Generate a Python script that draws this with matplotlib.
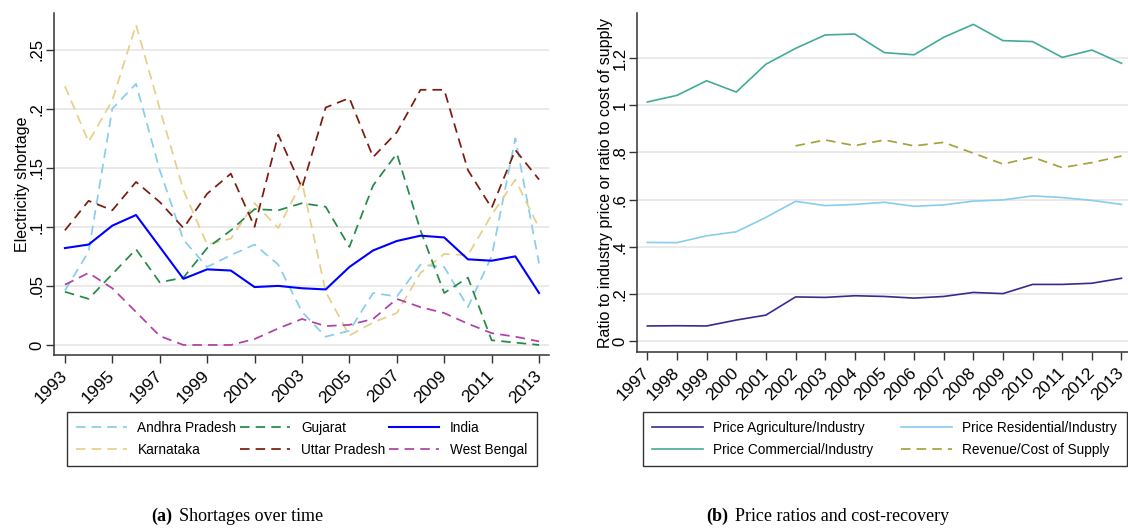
import matplotlib
matplotlib.use("Agg")
import matplotlib.pyplot as plt
from matplotlib.offsetbox import TextArea, HPacker, AnchoredOffsetbox

plt.rcParams['font.family'] = ['Liberation Sans', 'DejaVu Sans']

# ---------------- data: panel (a) ----------------
years_a = list(range(1993, 2014))
andhra = [0.046, 0.079, 0.200, 0.221, 0.148, 0.089, 0.066, 0.076, 0.085, 0.068,
          0.028, 0.007, 0.012, 0.044, 0.041, 0.068, 0.066, 0.032, 0.075, 0.175, 0.069]
gujarat = [0.045, 0.039, 0.060, 0.081, 0.053, 0.057, 0.082, 0.097, 0.115, 0.114,
           0.120, 0.117, 0.083, 0.135, 0.162, 0.097, 0.044, 0.057, 0.004, 0.002, 0.000]
india = [0.082, 0.085, 0.101, 0.110, 0.083, 0.056, 0.064, 0.063, 0.049, 0.050,
         0.048, 0.047, 0.066, 0.080, 0.088, 0.0925, 0.091, 0.0725, 0.0713, 0.075, 0.044]
karnataka = [0.219, 0.172, 0.207, 0.271, 0.200, 0.131, 0.085, 0.090, 0.120, 0.099,
             0.138, 0.045, 0.008, 0.019, 0.027, 0.061, 0.077, 0.076, 0.110, 0.140, 0.099]
uttar = [0.097, 0.122, 0.114, 0.138, 0.121, 0.099, 0.128, 0.145, 0.100, 0.178,
         0.133, 0.201, 0.209, 0.159, 0.180, 0.216, 0.216, 0.148, 0.116, 0.165, 0.140]
wbengal = [0.051, 0.061, 0.048, 0.028, 0.0076, 0.0, 0.0, 0.0, 0.005, 0.014,
           0.022, 0.016, 0.017, 0.022, 0.039, 0.032, 0.027, 0.018, 0.010, 0.007, 0.003]
xticks_a = list(range(1993, 2014, 2))
yticks_a = [0, 0.05, 0.1, 0.15, 0.2, 0.25]
yticklabels_a = ['0', '.05', '.1', '.15', '.2', '.25']

# ---------------- data: panel (b) ----------------
years_b = list(range(1997, 2014))
agri = [0.065, 0.066, 0.065, 0.090, 0.111, 0.188, 0.186, 0.193, 0.190, 0.183,
        0.190, 0.207, 0.202, 0.241, 0.241, 0.246, 0.267]
resid = [0.419, 0.418, 0.447, 0.464, 0.525, 0.593, 0.575, 0.580, 0.589, 0.572,
         0.578, 0.594, 0.599, 0.616, 0.609, 0.597, 0.580]
comm = [1.014, 1.042, 1.104, 1.056, 1.174, 1.241, 1.298, 1.302, 1.223, 1.214,
        1.288, 1.343, 1.274, 1.270, 1.203, 1.234, 1.178]
years_rev = list(range(2002, 2014))
revenue = [0.828, 0.853, 0.829, 0.853, 0.828, 0.843, 0.797, 0.751, 0.780, 0.736, 0.757, 0.785]
yticks_b = [0, 0.2, 0.4, 0.6, 0.8, 1.0, 1.2]
yticklabels_b = ['0', '.2', '.4', '.6', '.8', '1', '1.2']

W, H = 1128, 529
fig = plt.figure(figsize=(W / 100, H / 100), dpi=100)

def fx(px):
    return px / W

def fy(py):
    return 1 - py / H

axA = fig.add_axes([fx(54), fy(355), fx(549 - 54), (355 - 13) / H])
axB = fig.add_axes([fx(636.7), fy(352.3), fx(1128 - 636.7), (352.3 - 13) / H])

spine_col = '#333333'
grid_col = '#e6e6e6'

def style(ax, xt, xtl, yt, ytl, ylabel):
    for s in ['top', 'right']:
        ax.spines[s].set_visible(False)
    for s in ['left', 'bottom']:
        ax.spines[s].set_color(spine_col)
        ax.spines[s].set_linewidth(1.1)
    ax.yaxis.grid(True, color=grid_col, linewidth=1.2)
    ax.set_axisbelow(True)
    ax.tick_params(axis='both', length=6, width=1, color=spine_col, pad=2)
    ax.set_xticks(xt)
    ax.set_xticklabels(xtl, rotation=45, ha='right', va='center',
                       rotation_mode='anchor', fontsize=12.5)
    ax.tick_params(axis='x', pad=7)
    ax.set_yticks(yt)
    ax.set_yticklabels(ytl, rotation=90, va='center', ha='center', fontsize=12)
    ax.tick_params(axis='y', pad=6)
    ax.set_ylabel(ylabel, fontsize=11.5, labelpad=0)

dash = (0, (5.5, 3.5))
lw = 1.25
axA.plot(years_a, andhra, color='#87ceeb', lw=lw, ls=dash, label='Andhra Pradesh')
axA.plot(years_a, karnataka, color='#e6cf88', lw=lw, ls=dash, label='Karnataka')
axA.plot(years_a, gujarat, color='#238b45', lw=lw, ls=dash, label='Gujarat')
axA.plot(years_a, uttar, color='#7a1c0c', lw=lw, ls=dash, label='Uttar Pradesh')
axA.plot(years_a, india, color='#0000ff', lw=1.5, ls='-', label='India')
axA.plot(years_a, wbengal, color='#b040a8', lw=lw, ls=dash, label='West Bengal')
axA.set_xlim(1992.54, 2013.42)
axA.set_ylim(-0.0085, 0.281)
style(axA, xticks_a, [str(y) for y in xticks_a], yticks_a, yticklabels_a,
      'Electricity shortage')

axB.plot(years_b, agri, color='#3b2a8c', lw=1.2, label='Price Agriculture/Industry')
axB.plot(years_b, comm, color='#44aa99', lw=1.2, label='Price Commercial/Industry')
axB.plot(years_b, resid, color='#88ccee', lw=1.2, label='Price Residential/Industry')
axB.plot(years_rev, revenue, color='#a5a33a', lw=1.25, ls=dash, label='Revenue/Cost of Supply')
axB.set_xlim(1996.64, 2013.22)
axB.set_ylim(-0.0466, 1.391)
style(axB, years_b, [str(y) for y in years_b], yticks_b, yticklabels_b,
      'Ratio to industry price or ratio to cost of supply')

leg_kw = dict(mode='expand', borderaxespad=0, fontsize=9.8, frameon=True, fancybox=False,
              edgecolor='black', handlelength=3.7, borderpad=0.7, labelspacing=0.55,
              handletextpad=0.8)
hA, lA = axA.get_legend_handles_labels()
legA = fig.legend(hA, lA, loc='upper left', ncol=3,
                  bbox_to_anchor=(fx(66.7), fy(411.7) - 0.2, fx(537 - 66.7), 0.2),
                  columnspacing=0.1, **leg_kw)
legA.get_frame().set_linewidth(1.0)
hB, lB = axB.get_legend_handles_labels()
legB = fig.legend(hB, lB, loc='upper left', ncol=2,
                  bbox_to_anchor=(fx(642.7), fy(411.7) - 0.2, fx(1126.7 - 642.7), 0.2),
                  columnspacing=0.5, **leg_kw)
legB.get_frame().set_linewidth(1.0)

# captions
def caption(tag, text, xc, yc):
    t1 = TextArea(tag, textprops=dict(family='Liberation Serif', fontweight='bold', fontsize=13))
    t2 = TextArea(text, textprops=dict(family='Liberation Serif', fontsize=13))
    box = HPacker(children=[t1, t2], align='baseline', pad=0, sep=5)
    ab = AnchoredOffsetbox(loc='center', child=box, frameon=False,
                           bbox_to_anchor=(xc, yc), bbox_transform=fig.transFigure,
                           borderpad=0, pad=0)
    fig.add_artist(ab)

caption('(a)', 'Shortages over time', fx(237), fy(516))
caption('(b)', 'Price ratios and cost-recovery', fx(828), fy(516))

fig.savefig('out.png', dpi=100)
